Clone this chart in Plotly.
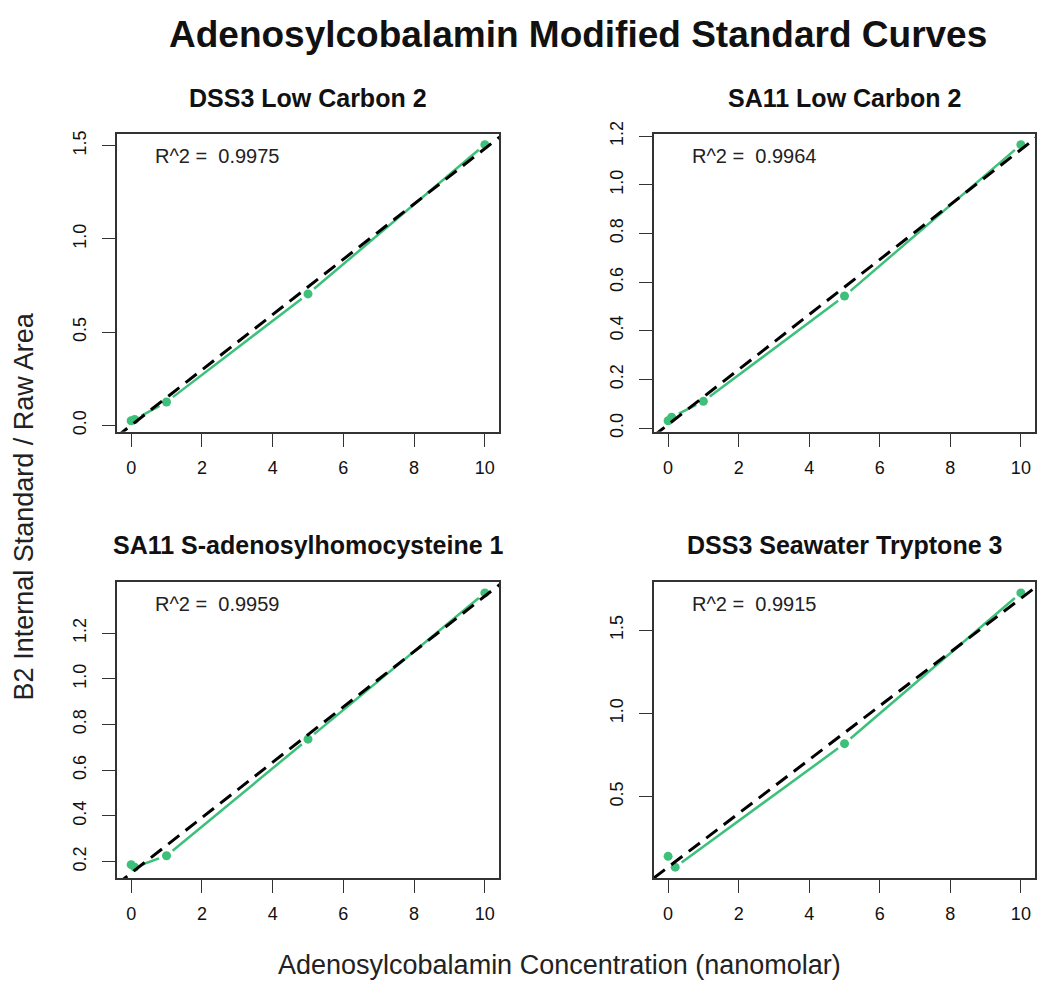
import numpy as np
import plotly.graph_objects as go

# ---- data ----
titles = ["DSS3 Low Carbon 2", "SA11 Low Carbon 2",
          "SA11 S-adenosylhomocysteine 1", "DSS3 Seawater Tryptone 3"]
conc_p1 = [0, 0.1, 1, 5, 10]
ratio_p1 = [0.025, 0.032, 0.126, 0.705, 1.505]
conc_p2 = [0, 0.1, 1, 5, 10]
ratio_p2 = [0.030, 0.045, 0.110, 0.543, 1.165]
conc_p3 = [0, 0.1, 1, 5, 10]
ratio_p3 = [0.187, 0.176, 0.226, 0.736, 1.376]
conc_p4 = [0, 0.2, 5, 10]
ratio_p4 = [0.141, 0.076, 0.818, 1.724]
r2_labels = ["R^2 =  0.9975", "R^2 =  0.9964", "R^2 =  0.9959", "R^2 =  0.9915"]
yticks_p1 = [0.0, 0.5, 1.0, 1.5]
yticks_p2 = [0.0, 0.2, 0.4, 0.6, 0.8, 1.0, 1.2]
yticks_p3 = [0.2, 0.4, 0.6, 0.8, 1.0, 1.2]
yticks_p4 = [0.5, 1.0, 1.5]
xticks = [0, 2, 4, 6, 8, 10]

panels = [(conc_p1, ratio_p1, yticks_p1), (conc_p2, ratio_p2, yticks_p2),
          (conc_p3, ratio_p3, yticks_p3), (conc_p4, ratio_p4, yticks_p4)]

W, H = 1039, 994

def px(x):
    return x / W

def py(y):
    return 1 - y / H

# panel boxes in page pixels: (left, right, top, bottom)
boxes = [(117, 499, 123, 427), (654, 1035, 123, 427),
         (117, 499, 580, 882), (654, 1035, 580, 882)]
title_y = [86.5, 86.5, 542, 542]

GREEN = "#3CC07A"
FONT = "Liberation Sans, Arial, Helvetica, sans-serif"

def rrange(v):
    lo, hi = min(v), max(v)
    d = (hi - lo) * 0.04
    return [lo - d, hi + d]

def gapped(x, y, xr, yr, wpx, hpx, gap):
    xs, ys = [], []
    sx = wpx / (xr[1] - xr[0])
    sy = hpx / (yr[1] - yr[0])
    for i in range(len(x) - 1):
        x0, y0 = (x[i] - xr[0]) * sx, (y[i] - yr[0]) * sy
        x1, y1 = (x[i + 1] - xr[0]) * sx, (y[i + 1] - yr[0]) * sy
        dx, dy = x1 - x0, y1 - y0
        L = np.hypot(dx, dy)
        if L <= 2 * gap:
            continue
        ux, uy = dx / L, dy / L
        a = (x0 + ux * gap, y0 + uy * gap)
        b = (x1 - ux * gap, y1 - uy * gap)
        xs += [a[0] / sx + xr[0], b[0] / sx + xr[0], None]
        ys += [a[1] / sy + yr[0], b[1] / sy + yr[0], None]
    return xs, ys

fig = go.Figure()
annotations = []

for i, ((cx, ry, yt), (l, r, t, b)) in enumerate(zip(panels, boxes)):
    n = "" if i == 0 else str(i + 1)
    xa, ya = "x" + n, "y" + n
    xr = rrange(cx)
    yr = rrange(ry)
    wpx, hpx = r - l, b - t
    fig.add_trace(go.Scatter(x=cx, y=ry, mode="markers", xaxis=xa, yaxis=ya,
                             marker=dict(color=GREEN, size=9, line=dict(width=0)),
                             showlegend=False, hoverinfo="skip"))
    gx, gy = gapped(cx, ry, xr, yr, wpx, hpx, 8)
    fig.add_trace(go.Scatter(x=gx, y=gy, mode="lines", xaxis=xa, yaxis=ya,
                             line=dict(color=GREEN, width=2.5),
                             showlegend=False, hoverinfo="skip"))
    slope, inter = np.polyfit(cx, ry, 1)
    lx = [xr[0] - 1, xr[1] + 1]
    ly = [inter + slope * v for v in lx]
    fig.add_trace(go.Scatter(x=lx, y=ly, mode="lines", xaxis=xa, yaxis=ya,
                             line=dict(color="black", width=3, dash="14px,8px"),
                             showlegend=False, hoverinfo="skip"))
    axcommon = dict(showline=True, linecolor="#333", linewidth=1.5, mirror=True,
                    ticks="outside", ticklen=13, tickwidth=1.3, tickcolor="#333",
                    showgrid=False, zeroline=False, fixedrange=True,
                    tickfont=dict(family=FONT, size=18, color="#111"))
    fig.update_layout(**{
        "xaxis" + n: dict(domain=[px(l), px(r)], range=xr, tickvals=xticks,
                          anchor=ya, ticklabelstandoff=6, **axcommon),
        "yaxis" + n: dict(domain=[py(b), py(t)], range=yr, tickvals=yt,
                          tickformat=".1f", tickangle=-90, anchor=xa,
                          ticklabelstandoff=9, **axcommon),
    })
    annotations.append(dict(text="<b>%s</b>" % titles[i], x=px((l + r) / 2),
                            y=py(title_y[i]), xref="paper", yref="paper",
                            showarrow=False, xanchor="center", yanchor="middle",
                            font=dict(family=FONT, size=25, color="#111")))
    annotations.append(dict(text=r2_labels[i], x=px(l + 36), y=py(t + 23),
                            xref="paper", yref="paper",
                            showarrow=False, xanchor="left", yanchor="middle",
                            font=dict(family=FONT, size=20, color="#222")))

annotations.append(dict(text="<b>Adenosylcobalamin Modified Standard Curves</b>",
                        x=px(578), y=py(22), xref="paper", yref="paper",
                        showarrow=False, xanchor="center", yanchor="middle",
                        font=dict(family=FONT, size=37, color="#111")))
annotations.append(dict(text="Adenosylcobalamin Concentration (nanomolar)",
                        x=px(559), y=py(971), xref="paper", yref="paper",
                        showarrow=False, xanchor="center", yanchor="middle",
                        font=dict(family=FONT, size=27, color="#222")))
annotations.append(dict(text="B2 Internal Standard / Raw Area",
                        x=px(24), y=py(503), xref="paper", yref="paper",
                        showarrow=False, xanchor="center", yanchor="middle",
                        textangle=-90,
                        font=dict(family=FONT, size=27, color="#222")))

fig.update_layout(width=W, height=H, margin=dict(l=0, r=0, t=0, b=0),
                  paper_bgcolor="white", plot_bgcolor="white",
                  annotations=annotations)

post = ("document.documentElement.style.margin='0';"
        "document.documentElement.style.overflow='hidden';"
        "document.body.style.margin='0';"
        "document.body.style.overflow='hidden';"
        "document.body.style.height='994px';"
        "var d=document.getElementById('{plot_id}');"
        "d.style.position='absolute';d.style.top='0px';d.style.left='0px';")

fig.write_html("out.html", config={"displayModeBar": False}, post_script=post)
